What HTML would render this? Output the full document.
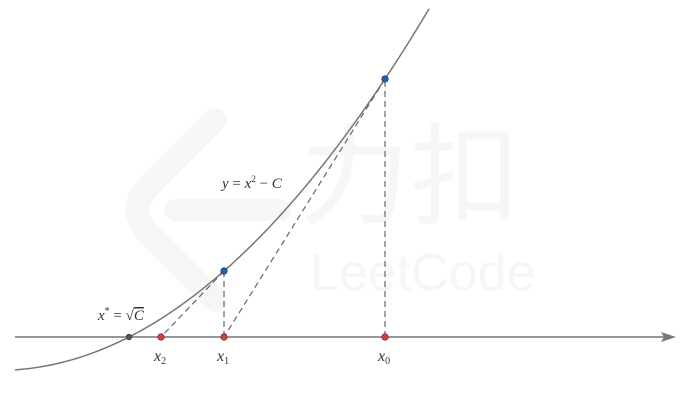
<!DOCTYPE html>
<html><head><meta charset="utf-8"><style>
html,body{margin:0;padding:0;background:#fff;}
svg{display:block;}
text{font-family:"Liberation Serif",serif;font-style:italic;fill:#333;}
</style></head><body>
<svg id="chart" width="685" height="414" viewBox="0 0 685 414">
<g opacity="1">
<path d="M215 120 L150 185 Q125 210 150 235 L215 300" fill="none" stroke="#f6f6f6" stroke-width="24" stroke-linecap="round"/>
<line x1="175" y1="210" x2="280" y2="210" stroke="#f6f6f6" stroke-width="22" stroke-linecap="round"/>
<text x="300" y="215" font-size="110" style="font-style:normal;font-family:'Liberation Sans','Noto Sans CJK SC',sans-serif;fill:#f6f6f6">力扣</text>
<text x="310" y="290" font-size="52" style="font-style:normal;font-family:'Liberation Sans',sans-serif;fill:#f6f6f6">LeetCode</text>
</g>
<g id="plot"></g>
</svg>
<script>
const rootX = 1.31;          // x* = sqrt(C)
const iterates = [3.87, 2.26, 1.63]; // x0, x1, x2
const iterLabels = ["0", "1", "2"];
const curveRange = [0.17, 4.31];

const SC = 100, ORIGIN_PX = -2, AXIS_Y = 337, K = 0.1946;
const C = rootX * rootX;
const f = x => x * x - C;
const px = x => ORIGIN_PX + x * SC;
const py = y => AXIS_Y - K * SC * y * 1;
const NS = "http://www.w3.org/2000/svg";
const g = document.getElementById("plot");
function mk(tag, attrs) { const e = document.createElementNS(NS, tag); for (const k in attrs) e.setAttribute(k, attrs[k]); g.appendChild(e); return e; }

let ax = mk("line", {x1: 15, y1: AXIS_Y, x2: 668, y2: AXIS_Y, stroke: "#777", "stroke-width": 1.5});


let arr = mk("path", {d: `M676 ${AXIS_Y} L661 ${AXIS_Y-5} L664 ${AXIS_Y} L661 ${AXIS_Y+5} Z`, fill: "#777"});



let d = "";
for (let i = 0; i <= 200; i++) { const x = curveRange[0] + (curveRange[1] - curveRange[0]) * i / 200; d += (i ? "L" : "M") + px(x).toFixed(2) + " " + py(f(x)).toFixed(2); }
let cv = mk("path", {d, fill: "none", stroke: "#777", "stroke-width": 1.5});



for (let i = 0; i < iterates.length - 1; i++) {
  const x = iterates[i];
  let v = mk("line", {x1: px(x), y1: AXIS_Y, x2: px(x), y2: py(f(x)), stroke: "#666", "stroke-width": 1.2, "stroke-dasharray": "6 4"});
  
  
  let t = mk("line", {x1: px(x), y1: py(f(x)), x2: px(iterates[i+1]), y2: AXIS_Y, stroke: "#666", "stroke-width": 1.2, "stroke-dasharray": "6 4"});
  
  
}
for (let i = 0; i < iterates.length; i++) {
  const x = iterates[i];
  if (i < iterates.length - 1) {
    let b = mk("circle", {cx: px(x), cy: py(f(x)), r: 3.3, fill: "#1565c0", stroke: "#333", "stroke-width": 0.6});
    
    
  }
  let r = mk("circle", {cx: px(x), cy: AXIS_Y, r: 3.3, fill: "#e53935", stroke: "#333", "stroke-width": 0.6});
  
  
  let lb = mk("text", {x: px(x) - 7, y: 361, "font-size": 16});
  lb.innerHTML = 'x<tspan font-size="10" dy="3" style="font-style:normal">' + iterLabels[i] + '</tspan>';
  
  
}
let rp = mk("circle", {cx: px(rootX), cy: AXIS_Y, r: 2.8, fill: "#555", stroke: "#333", "stroke-width": 0.6});


let rl = mk("text", {x: 98, y: 320, "font-size": 15});
rl.innerHTML = 'x<tspan font-size="10" dy="-6" style="font-style:normal">*</tspan><tspan dy="6" style="font-style:normal"> = √</tspan><tspan text-decoration="overline">C</tspan>';


let fl = mk("text", {x: 222, y: 188, "font-size": 15});
fl.innerHTML = 'y<tspan style="font-style:normal"> = </tspan>x<tspan font-size="9" dy="-6" style="font-style:normal">2</tspan><tspan dy="6" style="font-style:normal"> − </tspan>C';


</script>
</body></html>
